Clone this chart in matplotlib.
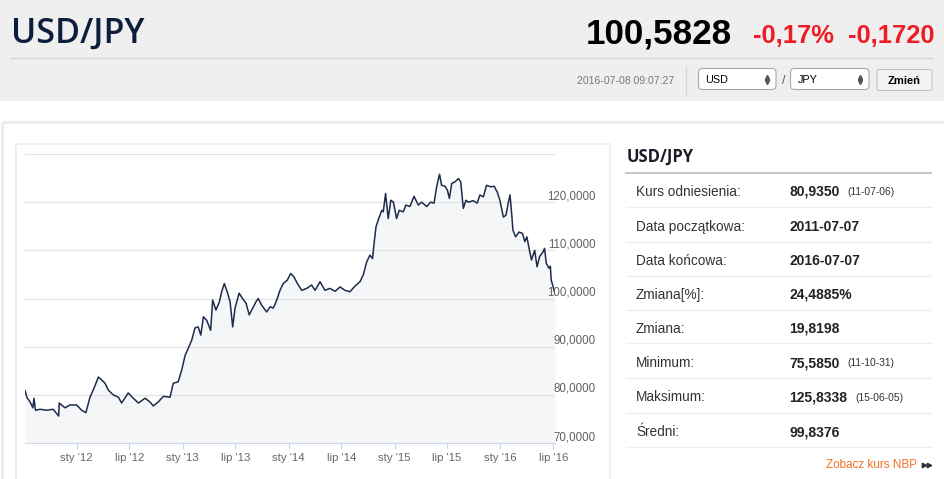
import numpy as np
import pandas as pd
import matplotlib
matplotlib.use('Agg')
import matplotlib.pyplot as plt
from matplotlib.patches import Rectangle, FancyBboxPatch

# --- dane (USD/JPY, 2011-07-07 .. 2016-07-07) ---
daty = [
    '2011-07-07', '2011-07-14', '2011-07-24', '2011-08-03', '2011-08-07', '2011-08-12',
    '2011-08-28', '2011-09-20', '2011-10-12', '2011-10-31', '2011-11-02', '2011-11-22',
    '2011-12-09', '2012-01-01', '2012-01-18', '2012-02-02', '2012-02-16', '2012-03-01',
    '2012-03-16', '2012-03-27', '2012-04-08', '2012-04-19', '2012-05-06', '2012-05-24',
    '2012-06-04', '2012-06-27', '2012-07-14', '2012-08-01', '2012-08-24', '2012-09-10',
    '2012-09-21', '2012-10-08', '2012-10-26', '2012-11-18', '2012-11-29', '2012-12-16',
    '2012-12-28', '2013-01-09', '2013-01-20', '2013-02-01', '2013-02-12', '2013-02-23',
    '2013-03-04', '2013-03-13', '2013-03-24', '2013-04-07', '2013-04-14', '2013-04-25',
    '2013-05-07', '2013-05-15', '2013-05-24', '2013-06-03', '2013-06-13', '2013-06-22',
    '2013-06-30', '2013-07-14', '2013-07-26', '2013-08-07', '2013-08-18', '2013-08-30',
    '2013-09-10', '2013-09-18', '2013-09-30', '2013-10-17', '2013-10-29', '2013-11-09',
    '2013-11-21', '2013-12-02', '2013-12-13', '2013-12-27', '2014-01-08', '2014-01-19',
    '2014-01-31', '2014-02-15', '2014-03-04', '2014-03-21', '2014-04-02', '2014-04-19',
    '2014-05-06', '2014-05-23', '2014-06-10', '2014-06-27', '2014-07-14', '2014-07-31',
    '2014-08-18', '2014-09-04', '2014-09-15', '2014-09-27', '2014-10-08', '2014-10-17',
    '2014-10-23', '2014-10-29', '2014-11-09', '2014-11-18', '2014-11-23', '2014-12-01',
    '2014-12-10', '2014-12-19', '2014-12-28', '2015-01-08', '2015-01-17', '2015-01-31',
    '2015-02-09', '2015-02-23', '2015-03-09', '2015-03-24', '2015-04-04', '2015-04-22',
    '2015-05-05', '2015-05-17', '2015-05-26', '2015-06-05', '2015-06-12', '2015-06-24',
    '2015-07-02', '2015-07-09', '2015-07-17', '2015-07-28', '2015-08-09', '2015-08-17',
    '2015-08-26', '2015-09-04', '2015-09-12', '2015-09-29', '2015-10-13', '2015-10-22',
    '2015-11-03', '2015-11-14', '2015-11-28', '2015-12-10', '2015-12-21', '2015-12-30',
    '2016-01-11', '2016-01-20', '2016-01-28', '2016-02-03', '2016-02-09', '2016-02-13',
    '2016-02-22', '2016-03-05', '2016-03-17', '2016-03-25', '2016-04-01', '2016-04-11',
    '2016-04-17', '2016-04-28', '2016-05-06', '2016-05-15', '2016-05-27', '2016-06-01',
    '2016-06-07', '2016-06-16', '2016-06-21', '2016-06-24', '2016-06-29', '2016-07-07',
]
kurs = [
    80.9, 79.4, 78.6, 77.3, 79.3, 76.8,
    77.0, 76.8, 77.0, 75.6, 78.3, 77.3,
    77.9, 77.9, 76.8, 76.3, 79.5, 81.4,
    83.7, 83.1, 82.4, 81.0, 80.0, 79.5,
    78.3, 80.4, 79.3, 78.3, 79.3, 78.5,
    77.7, 78.5, 79.7, 79.5, 82.4, 82.7,
    85.1, 88.2, 89.7, 91.4, 93.9, 94.1,
    92.4, 96.2, 95.5, 93.4, 99.7, 97.6,
    99.3, 101.4, 103.1, 101.4, 99.3, 94.1,
    98.0, 101.1, 100.0, 99.0, 96.6, 98.0,
    99.3, 100.0, 98.6, 97.2, 98.3, 98.0,
    99.7, 101.7, 103.1, 103.8, 105.2, 104.5,
    103.1, 101.7, 102.1, 102.8, 101.7, 103.5,
    101.7, 102.1, 101.5, 102.4, 101.7, 101.4,
    102.6, 103.5, 104.9, 107.6, 109.0, 108.3,
    111.8, 114.9, 116.9, 118.3, 118.0, 121.8,
    116.6, 120.4, 120.0, 116.6, 118.3, 118.0,
    119.4, 119.1, 121.2, 119.4, 120.0, 119.1,
    120.0, 119.8, 123.2, 125.8, 123.5, 123.3,
    122.5, 120.8, 123.9, 124.2, 124.9, 124.2,
    118.7, 120.4, 120.0, 120.3, 119.8, 121.5,
    121.1, 123.5, 123.2, 123.3, 122.1, 120.4,
    116.9, 117.3, 119.9, 121.5, 117.3, 114.2,
    112.8, 113.8, 113.5, 111.8, 112.8, 109.7,
    108.0, 110.0, 106.6, 108.7, 109.7, 110.4,
    107.3, 106.3, 106.7, 103.8, 102.8, 101.0,
]

tick_daty = ['2012-01-01', '2012-07-01', '2013-01-01', '2013-07-01', '2014-01-01',
             '2014-07-01', '2015-01-01', '2015-07-01', '2016-01-01', '2016-07-01']
tick_etykiety = ["sty '12", "lip '12", "sty '13", "lip '13", "sty '14",
                 "lip '14", "sty '15", "lip '15", "sty '16", "lip '16"]
y_wartosci = [70, 80, 90, 100, 110, 120]
y_etykiety = ['70,0000', '80,0000', '90,0000', '100,0000', '110,0000', '120,0000']

tabela_etykiety = ['Kurs odniesienia:', 'Data początkowa:', 'Data końcowa:', 'Zmiana[%]:',
                   'Zmiana:', 'Minimum:', 'Maksimum:', 'Średni:']
tabela_wartosci = ['80,9350', '2011-07-07', '2016-07-07', '24,4885%',
                   '19,8198', '75,5850', '125,8338', '99,8376']
tabela_daty = ['(11-07-06)', '', '', '', '', '(11-10-31)', '(15-06-05)', '']

W, H = 945, 479
fig = plt.figure(figsize=(W / 100, H / 100), dpi=100)
fig.patch.set_facecolor('white')

# tlo strony w pikselach
bg = fig.add_axes([0, 0, 1, 1])
bg.set_xlim(0, W)
bg.set_ylim(H, 0)
bg.axis('off')

bg.add_patch(Rectangle((0, 0), W, 101, fc='#efefef', ec='none'))
bg.plot([10, 933], [58.3, 58.3], color='#d4d4d4', lw=0.9)
bg.plot([686, 686], [67, 94], color='#d4d4d4', lw=0.9)
bg.add_patch(Rectangle((1.5, 122), W + 10, 400, fill=False, ec='#ececec', lw=2.2))
bg.add_patch(Rectangle((15.5, 143.5), 594.5, 400, fill=False, ec='#eeeeee', lw=1.3))

# naglowek
bg.text(11, 43, 'USD/JPY', fontsize=24.5, family='Open Sans', weight='semibold',
        color='#0d1e3d', va='baseline', ha='left')
bg.text(586, 43.3, '100,5828', fontsize=25.2, family='Liberation Sans', weight='bold',
        color='black', va='baseline', ha='left')
bg.text(753, 43.3, '-0,17%', fontsize=18.4, family='Liberation Sans', weight='bold',
        color='#ee1c25', va='baseline', ha='left')
bg.text(848, 43.3, '-0,1720', fontsize=18.4, family='Liberation Sans', weight='bold',
        color='#ee1c25', va='baseline', ha='left')
bg.text(577, 84, '2016-07-08 09:07:27', fontsize=7.6, family='Liberation Sans',
        color='#777777', va='baseline', ha='left')

# listy wyboru walut
for x0, w, txt in [(698.5, 77.5, 'USD'), (790.5, 78.5, 'JPY')]:
    bg.add_patch(FancyBboxPatch((x0, 68.5), w, 21, boxstyle='round,pad=0,rounding_size=4',
                                fc='white', ec='#a9a9a9', lw=0.8))
    bg.text(x0 + 7, 83, txt, fontsize=7.8, family='Liberation Sans', color='black',
            va='baseline', ha='left')
    bg.plot([x0 + w - 9], [76.5], marker='^', ms=3, color='#555555', lw=0)
    bg.plot([x0 + w - 9], [82.0], marker='v', ms=3, color='#555555', lw=0)
bg.text(783.5, 83.5, '/', fontsize=9, family='Liberation Sans', color='#555555',
        va='baseline', ha='center')
bg.add_patch(FancyBboxPatch((877, 69.5), 55, 21, boxstyle='round,pad=0,rounding_size=2',
                            fc='#f3f3f3', ec='#c4c4c4', lw=0.8))
bg.text(904.5, 84, 'Zmień', fontsize=8, family='Liberation Sans', weight='bold',
        color='black', va='baseline', ha='center')

# tabela po prawej
bg.text(626.5, 162, 'USD/JPY', fontsize=12, family='Open Sans', weight='bold',
        color='#1c1c28', va='baseline', ha='left')
bg.plot([626, 931], [173, 173], color='#c8c8c8', lw=1.5)
srodki = [190.7, 225.7, 260, 293.3, 327.3, 361.7, 396, 431]
linie = [207.3, 241.7, 275.7, 309.7, 343.3, 378.3, 413.3, 447.3]
for i in range(len(tabela_etykiety)):
    yb = srodki[i] + 5.3
    bg.text(636, yb, tabela_etykiety[i], fontsize=9.8, family='Liberation Sans',
            color='#333333', va='baseline', ha='left')
    t = bg.text(789, yb, tabela_wartosci[i], fontsize=10, family='Liberation Sans',
                weight='bold', color='#222222', va='baseline', ha='left')
    if tabela_daty[i]:
        bg.annotate(tabela_daty[i], xy=(1, 0), xycoords=t, xytext=(5.8, 1.2),
                    textcoords='offset points', fontsize=7.4, family='Liberation Sans',
                    color='#333333', va='bottom', ha='left')
    bg.plot([626, 931], [linie[i], linie[i]], color='#eeeeee', lw=1)
bg.text(826.5, 468.5, 'Zobacz kurs NBP', fontsize=8.4, family='Liberation Sans',
        color='#f36f21', va='baseline', ha='left')
bg.plot([923.5, 928.5], [465, 465], marker='>', ms=3.2, color='#333333', lw=0)

# wykres
ax = fig.add_axes([25 / W, 1 - 443 / H, 530 / W, (443 - 154) / H])
ax.set_facecolor('none')
x = pd.to_datetime(daty)
ax.fill_between(x, kurs, 70, color='#f5f6f8', lw=0)
ax.plot(x, kurs, color='#1d2b4c', lw=1.1)
ax.set_xlim(pd.Timestamp('2011-07-07'), pd.Timestamp('2016-07-07'))
ax.set_ylim(70, 130)

ax.set_yticks([80, 90, 100, 110, 120, 130])
ax.yaxis.grid(True, color='#e3e3e3', lw=0.9)
ax.tick_params(axis='y', left=False, labelleft=False)
for v, lbl in zip(y_wartosci, y_etykiety):
    ax.annotate(lbl, xy=(1, v), xycoords=('axes fraction', 'data'),
                xytext=(41 * 0.72, 6 * 0.72), textcoords='offset points',
                ha='right', va='center', fontsize=8.3, family='Liberation Sans',
                color='#606060')

ax.set_xticks(pd.to_datetime(tick_daty))
ax.set_xticklabels(tick_etykiety)
ax.tick_params(axis='x', direction='out', length=4.3, width=0.8, color='#ccd6eb',
               labelcolor='#666666', labelsize=8.2, pad=3)
for lab in ax.get_xticklabels():
    lab.set_family('Liberation Sans')
for s in ['top', 'left', 'right']:
    ax.spines[s].set_visible(False)
ax.spines['bottom'].set_color('#ccd6eb')
ax.spines['bottom'].set_linewidth(0.8)

fig.savefig('out.png', dpi=100)
